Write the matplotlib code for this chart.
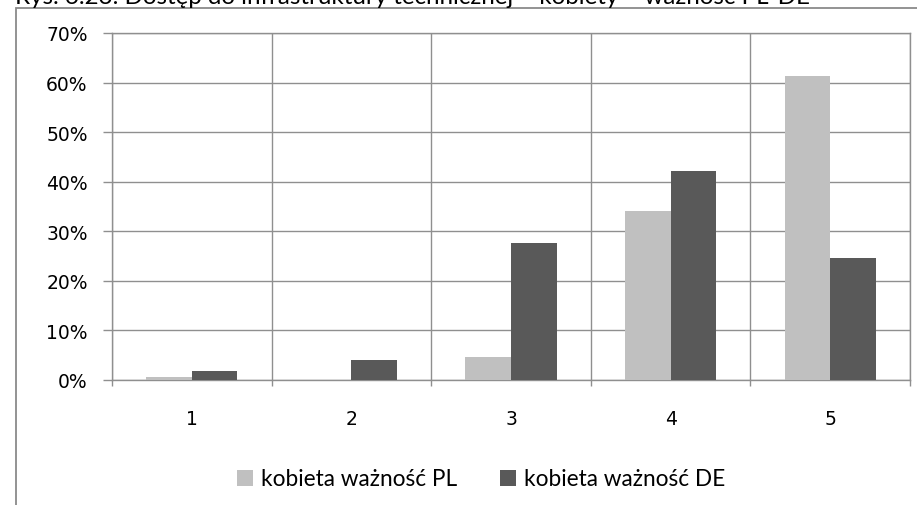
import numpy as np
import matplotlib
matplotlib.use("Agg")
import matplotlib.pyplot as plt
from matplotlib.patches import Rectangle, Patch

# dane
kategorie = ['1', '2', '3', '4', '5']
kobieta_pl = [0.55, 0.0, 4.6, 34.0, 61.3]
kobieta_de = [1.9, 4.0, 27.7, 42.1, 24.7]
etykiety = ['kobieta ważność PL', 'kobieta ważność DE']
tytul = 'Rys. 6.23. Dostęp do infrastruktury technicznej – kobiety – ważność PL-DE'

kolor_pl = '#c0c0c0'
kolor_de = '#595959'
kolor_siatki = '#8f8f8f'

W, H = 917, 506
fig = plt.figure(figsize=(W / 100, H / 100), dpi=100)

# ramka wykresu (ucięta z prawej i od dołu)
fig.patches.append(Rectangle((15.5 / W, -0.1), 2.0, 1 - 9 / H + 0.1,
                             transform=fig.transFigure, fill=False,
                             edgecolor='#8a8a8a', linewidth=1.3))

# tytuł - widoczna tylko dolna część (jak w oryginale)
fig.text(15 / W, 1 - 4 / H, tytul, ha='left', va='baseline',
         fontsize=17.4, family='Lato', color='black')

ax = fig.add_axes([112 / W, 1 - 381 / H, 798 / W, 347 / H])

x = np.arange(len(kategorie))
szer = 1 / 3.5
ax.bar(x - szer / 2, kobieta_pl, szer, color=kolor_pl, zorder=3)
ax.bar(x + szer / 2, kobieta_de, szer, color=kolor_de, zorder=3)

ax.set_xlim(-0.5, len(kategorie) - 0.5)
ax.set_ylim(0, 70)

ax.set_yticks(np.arange(0, 71, 10))
ax.set_yticklabels([f'{v}%' for v in range(0, 71, 10)], family='DejaVu Sans', fontsize=13.5)
ax.set_xticks(x)
ax.set_xticklabels(kategorie, family='DejaVu Sans', fontsize=13.5)
ax.set_xticks(np.arange(-0.5, len(kategorie), 1), minor=True)

ax.tick_params(axis='x', which='major', length=0, pad=21)
ax.tick_params(axis='x', which='minor', length=4.5, color=kolor_siatki, width=1)
ax.tick_params(axis='y', length=6.5, pad=11, color=kolor_siatki, width=1)

ax.grid(True, which='major', axis='y', color=kolor_siatki, linewidth=1, zorder=0)
ax.grid(True, which='minor', axis='x', color=kolor_siatki, linewidth=1, zorder=0)
ax.set_axisbelow(True)
for s in ax.spines.values():
    s.set_color(kolor_siatki)
    s.set_linewidth(1)

uchwyty = [Patch(facecolor=kolor_pl, label=etykiety[0]),
           Patch(facecolor=kolor_de, label=etykiety[1])]
fig.legend(handles=uchwyty, loc='center', bbox_to_anchor=(481 / W, 1 - 480 / H),
           ncol=2, frameon=False, prop={'family': 'Lato', 'size': 16.3},
           handlelength=0.7, handleheight=0.7, handletextpad=0.35,
           columnspacing=1.9)

fig.savefig('out.png', dpi=100)
